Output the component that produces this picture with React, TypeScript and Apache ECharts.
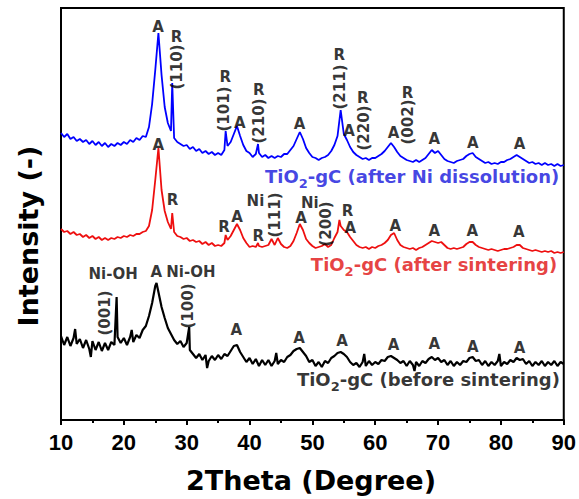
import React, { useEffect, useRef } from "react";
import * as echarts from "echarts";

// 2Theta grid of the sampled curves: 10°, 10.5°, ... 90°
const X_START = 10;
const X_STEP = 0.5;

// TiO2-gC (after Ni dissolution) – arbitrary intensity units (offset trace)
const blueValues = [
  287, 283, 286, 281, 283, 279, 281, 278, 280, 276, 279, 275, 278, 274, 277, 273, 276, 274, 277, 275,
  278, 276, 280, 278, 282, 280, 284, 283, 293, 316, 350, 387, 345, 313, 297, 289, 282, 278, 276, 274,
  275, 271, 273, 269, 271, 267, 269, 266, 268, 265, 267, 265, 270, 274, 278, 286, 294, 284, 275, 269,
  267, 263, 266, 267, 263, 265, 262, 264, 262, 264, 263, 266, 266, 270, 274, 281, 288, 281, 272, 267,
  263, 262, 260, 262, 263, 265, 269, 275, 284, 310, 286, 280, 273, 268, 265, 263, 261, 262, 260, 262,
  262, 264, 266, 269, 273, 277, 273, 268, 264, 262, 260, 259, 258, 260, 258, 260, 262, 266, 270, 267,
  269, 265, 261, 259, 258, 257, 259, 260, 261, 264, 266, 267, 263, 261, 259, 257, 258, 256, 257, 256,
  258, 258, 260, 261, 263, 265, 263, 261, 259, 257, 258, 256, 257, 255, 257, 255, 256, 254, 256, 254,
  255,
];
const blueSpikes = [
  [27.7, 337],
  [36.2, 289],
  [41.35, 276],
];

// TiO2-gC (after sintering)
const redValues = [
  191, 188, 189, 186, 188, 185, 186, 183, 185, 182, 184, 181, 183, 180, 182, 180, 182, 181, 183, 182,
  184, 183, 185, 184, 186, 186, 188, 189, 194, 210, 240, 272, 230, 209, 198, 191, 188, 184, 183, 181,
  182, 179, 180, 178, 179, 176, 178, 175, 177, 174, 175, 174, 177, 180, 184, 190, 196, 190, 182, 177,
  173, 174, 173, 174, 173, 174, 175, 181, 175, 182, 176, 173, 172, 174, 179, 187, 196, 190, 181, 177,
  174, 172, 173, 174, 176, 173, 175, 182, 188, 194, 190, 188, 183, 179, 175, 173, 172, 173, 171, 173,
  172, 174, 175, 177, 180, 185, 187, 180, 175, 173, 172, 171, 172, 170, 172, 173, 175, 177, 179, 178,
  177, 178, 175, 172, 171, 172, 171, 172, 173, 176, 178, 178, 175, 173, 172, 171, 170, 171, 170, 169,
  170, 171, 171, 172, 173, 175, 175, 172, 171, 170, 169, 170, 169, 168, 169, 168, 169, 167, 168, 167,
  168,
];
const redSpikes = [
  [27.7, 207],
  [36.2, 185],
  [41.35, 177],
  [54.3, 200],
];

// TiO2-gC (before sintering)
const blackValues = [
  84, 75, 83, 74, 82, 76, 81, 72, 80, 71, 79, 70, 78, 69, 77, 70, 78, 75, 83, 77,
  82, 75, 83, 78, 85, 82, 90, 94, 104, 117, 134, 128, 113, 102, 92, 86, 80, 76, 79, 73,
  77, 70, 66, 62, 66, 60, 65, 59, 64, 60, 65, 61, 66, 64, 69, 74, 75, 68, 63, 58,
  62, 56, 61, 54, 60, 55, 60, 54, 59, 56, 60, 58, 63, 65, 69, 71, 72, 68, 64, 58,
  60, 54, 58, 53, 59, 57, 62, 64, 67, 68, 66, 63, 58, 55, 57, 53, 58, 54, 59, 55,
  58, 56, 60, 59, 63, 64, 62, 60, 57, 59, 54, 59, 55, 58, 54, 59, 57, 61, 63, 60,
  62, 58, 60, 55, 59, 54, 58, 55, 59, 58, 62, 63, 59, 60, 55, 59, 54, 58, 55, 59,
  54, 58, 56, 60, 58, 62, 60, 61, 56, 59, 54, 58, 55, 59, 54, 58, 55, 59, 54, 58,
  56,
];
const blackSpikes = [
  [12.25, 91],
  [14.75, 63],
  [18.85, 123],
  [21.25, 90],
  [25.2, 137],
  [30.4, 93],
  [33.25, 52],
  [44.25, 67],
  [58.25, 66],
  [66.25, 49],
  [79.75, 66],
];

// Peak annotations: [2Theta, intensity, text, rotation]
const blueAnnotations: [number, number, string, number][] = [
  [25.45, 393, "A", 0],
  [28.38, 383, "R", 0],
  [28.38, 353, "(110)", 90],
  [36.14, 343, "R", 0],
  [35.93, 311, "(101)", 90],
  [38.44, 297, "A", 0],
  [41.48, 330, "R", 0],
  [41.57, 299, "(210)", 90],
  [47.97, 296, "A", 0],
  [54.28, 365, "R", 0],
  [54.39, 333, "(211)", 90],
  [55.83, 289, "A", 0],
  [58.0, 322, "R", 0],
  [58.16, 292, "(220)", 90],
  [62.91, 287, "A", 0],
  [65.13, 327, "R", 0],
  [65.29, 298, "(002)", 90],
  [69.41, 281, "A", 0],
  [75.54, 277, "A", 0],
  [82.98, 276, "A", 0],
];
const redAnnotations: [number, number, string, number][] = [
  [25.49, 275, "A", 0],
  [27.74, 220, "R", 0],
  [35.93, 193, "R", 0],
  [38.0, 203, "A", 0],
  [41.41, 184, "R", 0],
  [40.94, 219, "Ni", 0],
  [44.03, 205, "(111)", 90],
  [48.18, 202, "A", 0],
  [49.6, 217, "Ni", 0],
  [52.14, 196, "(200)", 90],
  [55.59, 209, "R", 0],
  [56.05, 192, "A", 0],
  [63.18, 194, "A", 0],
  [69.41, 189, "A", 0],
  [75.43, 189, "A", 0],
  [82.83, 188, "A", 0],
];
const blackAnnotations: [number, number, string, number][] = [
  [18.29, 146, "Ni-OH", 0],
  [17.05, 107, "(001)", 90],
  [25.16, 148, "A", 0],
  [30.67, 148, "Ni-OH", 0],
  [30.28, 114, "(100)", 90],
  [37.88, 90, "A", 0],
  [47.86, 82, "A", 0],
  [54.72, 79, "A", 0],
  [62.91, 75, "A", 0],
  [69.41, 76, "A", 0],
  [75.51, 73, "A", 0],
  [82.98, 72, "A", 0],
];

// Trace names: [2Theta of left edge, intensity, text]
const traceNames: [number, number, string][] = [
  [42.45, 244, "TiO{sub|2}-gC (after Ni dissolution)"],
  [49.76, 156, "TiO{sub|2}-gC (after sintering)"],
  [47.54, 41, "TiO{sub|2}-gC (before sintering)"],
];

const X_MIN = 10;
const X_MAX = 90;
const X_INTERVAL = 10;
const Y_MIN = 0;
const Y_MAX = 412;

const BLUE = "#0000ff";
const RED = "#ee0f0f";
const BLACK = "#000000";
const BLUE_TEXT = "#1414dc";
const RED_TEXT = "#e01010";
const LABEL_FONT = "DejaVu Sans";

function toPoints(values: number[], extra: number[][]) {
  const pts = values.map((v, i) => [X_START + i * X_STEP, v]);
  return pts.concat(extra).sort((a, b) => a[0] - b[0]);
}

export default function App() {
  const ref = useRef<HTMLDivElement>(null);

  useEffect(() => {
    if (!ref.current) return;
    const chart = echarts.init(ref.current, undefined, { renderer: "svg" });

    const annData = [...blueAnnotations, ...redAnnotations, ...blackAnnotations].map(
      ([x, y, t, r]) => ({
        value: [x, y],
        label: { formatter: t, rotate: r },
      })
    );

    const nameColors = [BLUE_TEXT, RED_TEXT, BLACK];
    const nameData = traceNames.map(([x, y, t], i) => ({
      value: [x, y],
      label: {
        formatter: t,
        color: nameColors[i],
        rich: {
          sub: {
            fontSize: 13,
            fontWeight: "bold",
            fontFamily: LABEL_FONT,
            color: nameColors[i],
            padding: [14, 0, 0, 0],
          },
        },
      },
    }));

    const lineBase = {
      type: "line" as const,
      showSymbol: false,
      symbol: "none",
      silent: true,
      animation: false,
    };

    chart.setOption({
      animation: false,
      grid: {
        left: 61,
        right: 13,
        top: 8,
        bottom: 79,
        show: true,
        borderColor: "#000",
        borderWidth: 2,
        backgroundColor: "transparent",
      },
      xAxis: {
        type: "value",
        min: X_MIN,
        max: X_MAX,
        interval: X_INTERVAL,
        axisLine: { show: true, lineStyle: { color: "#000", width: 2 } },
        axisTick: { show: true, inside: false, length: 5, lineStyle: { color: "#000", width: 2 } },
        minorTick: { show: true, splitNumber: 2, length: 3, lineStyle: { color: "#000", width: 2 } },
        splitLine: { show: false },
        minorSplitLine: { show: false },
        axisLabel: {
          color: "#000",
          fontFamily: "Liberation Sans",
          fontWeight: "bold",
          fontSize: 22,
          margin: 11,
        },
      },
      yAxis: {
        type: "value",
        min: Y_MIN,
        max: Y_MAX,
        show: false,
        splitLine: { show: false },
      },
      graphic: [
        {
          type: "text",
          x: 28,
          y: 236,
          rotation: Math.PI / 2,
          silent: true,
          style: {
            text: "Intensity (-)",
            font: `bold 27px "${LABEL_FONT}"`,
            fill: "#000",
            align: "center",
            verticalAlign: "middle",
          },
        },
        {
          type: "text",
          x: 311,
          y: 480,
          silent: true,
          style: {
            text: "2Theta (Degree)",
            font: `bold 27px "${LABEL_FONT}"`,
            fill: "#000",
            align: "center",
            verticalAlign: "middle",
          },
        },
      ],
      series: [
        { ...lineBase, name: "before", data: toPoints(blackValues, blackSpikes), lineStyle: { color: BLACK, width: 2.2 } },
        { ...lineBase, name: "sintered", data: toPoints(redValues, redSpikes), lineStyle: { color: RED, width: 1.8 } },
        { ...lineBase, name: "dissolved", data: toPoints(blueValues, blueSpikes), lineStyle: { color: BLUE, width: 1.8 } },
        {
          type: "scatter",
          silent: true,
          symbolSize: 1,
          itemStyle: { color: "transparent" },
          z: 5,
          label: {
            show: true,
            position: "inside",
            color: "#000",
            fontFamily: LABEL_FONT,
            fontWeight: "bold",
            fontSize: 15,
          },
          data: annData,
        },
        {
          type: "scatter",
          silent: true,
          symbolSize: 1,
          itemStyle: { color: "transparent" },
          z: 5,
          label: {
            show: true,
            position: "inside",
            align: "left",
            fontFamily: LABEL_FONT,
            fontWeight: "bold",
            fontSize: 18,
          },
          data: nameData,
        },
      ],
    });

    return () => chart.dispose();
  }, []);

  return (
    <div
      ref={ref}
      style={{ position: "fixed", left: 0, top: 0, width: 579, height: 499, background: "#fff" }}
    />
  );
}
